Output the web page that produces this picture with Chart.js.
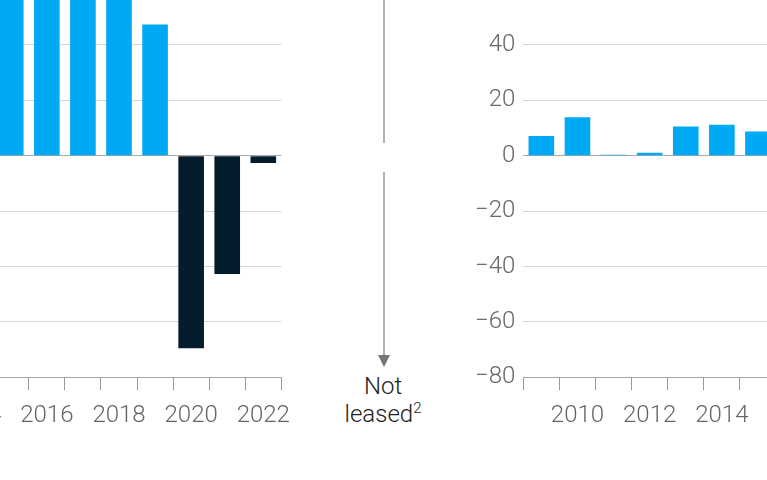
<!DOCTYPE html>
<html>
<head>
<meta charset="utf-8">
<script src="https://cdn.jsdelivr.net/npm/chart.js@4.4.0/dist/chart.umd.min.js"></script>
<style>
  html, body { margin: 0; padding: 0; background: #fff; }
  body { width: 767px; height: 480px; position: relative; overflow: hidden; font-family: Roboto, "Liberation Sans", sans-serif; }
  .panel { position: absolute; }
  #leftWrap { left: -64.2px; top: -40px; width: 366px; height: 477.3px; }
  #rightWrap { left: 470px; top: -40px; width: 326px; height: 477.3px; }
  .arrow-line { position: absolute; left: 382.5px; width: 2px; background: #b4b4b4; }
  .arrow-head { position: absolute; left: 377.5px; top: 355px; width: 0; height: 0;
    border-left: 6px solid transparent; border-right: 6px solid transparent; border-top: 12px solid #777; }
  .note { position: absolute; left: 323px; top: 372px; width: 120px; text-align: center;
    font-size: 24px; font-weight: 300; line-height: 28px; color: #222; }
  .note sup { font-size: 15px; vertical-align: 9px; line-height: 0; }
</style>
</head>
<body>
<div id="leftWrap" class="panel"><canvas id="leftChart"></canvas></div>
<div id="rightWrap" class="panel"><canvas id="rightChart"></canvas></div>
<div class="arrow-line" style="top:0; height:143px;"></div>
<div class="arrow-line" style="top:172px; height:184px;"></div>
<div class="arrow-head"></div>
<div class="note">Not<br>leased<sup>2</sup></div>
<script>
// left panel (values above ~56 run past the top of the crop)
const leftYears = ['2014', '2015', '2016', '2017', '2018', '2019', '2020', '2021', '2022'];
const leftValues = [62, 75, 82, 80, 72, 47.4, -69.5, -42.7, -2.6];

// right panel
const rightYears = ['2009', '2010', '2011', '2012', '2013', '2014', '2015'];
const rightValues = [7.1, 13.9, 0.3, 1.1, 10.5, 11.2, 8.7];

const yTicks = [-80, -60, -40, -20, 0, 20, 40, 60];

const LIGHT = '#00A9F4';
const DARK = '#051C2C';
const tickFont = { family: 'Roboto, "Liberation Sans", sans-serif', size: 24, weight: 300 };

function gridColor(ctx) {
  return ctx.tick && ctx.tick.value === 0 ? '#a8a8a8' : '#d4d4d4';
}

function yearLabel(labels) {
  return function (val, i) {
    const y = Number(labels[i]);
    return y % 2 === 0 ? labels[i] : '';
  };
}

function makeOptions(labels, showY) {
  return {
    responsive: true,
    maintainAspectRatio: false,
    animation: false,
    layout: { padding: { top: 29.5, right: 20, left: showY ? 0 : 20, bottom: 0 } },
    plugins: { legend: { display: false }, tooltip: { enabled: false } },
    scales: {
      x: {
        offset: true,
        grid: { offset: true, drawOnChartArea: false, drawTicks: true, tickLength: 13, color: '#9a9a9a' },
        border: { display: true, color: '#a8a8a8' },
        ticks: { autoSkip: false, maxRotation: 0, padding: 11, color: '#666', font: tickFont, callback: yearLabel(labels) },
        afterFit(axis) { axis.height = 60; }
      },
      y: {
        min: yTicks[0],
        max: yTicks[yTicks.length - 1],
        afterBuildTicks(axis) { axis.ticks = yTicks.map(v => ({ value: v })); },
        grid: { drawTicks: false, color: gridColor },
        border: { display: false },
        ticks: {
          display: showY,
          padding: 8,
          color: '#666',
          font: tickFont,
          callback: v => (v === 60 ? '' : String(v).replace('-', '\u2212'))
        },
        afterFit(axis) { axis.width = showY ? 53.3 : 0; }
      }
    }
  };
}

new Chart(document.getElementById('leftChart'), {
  type: 'bar',
  data: {
    labels: leftYears,
    datasets: [{
      data: leftValues,
      backgroundColor: leftValues.map(v => (v < 0 ? DARK : LIGHT)),
      barPercentage: 0.71,
      categoryPercentage: 1
    }]
  },
  options: makeOptions(leftYears, false)
});

new Chart(document.getElementById('rightChart'), {
  type: 'bar',
  data: {
    labels: rightYears,
    datasets: [{
      data: rightValues,
      backgroundColor: LIGHT,
      barPercentage: 0.71,
      categoryPercentage: 1
    }]
  },
  options: makeOptions(rightYears, true)
});
</script>
</body>
</html>
